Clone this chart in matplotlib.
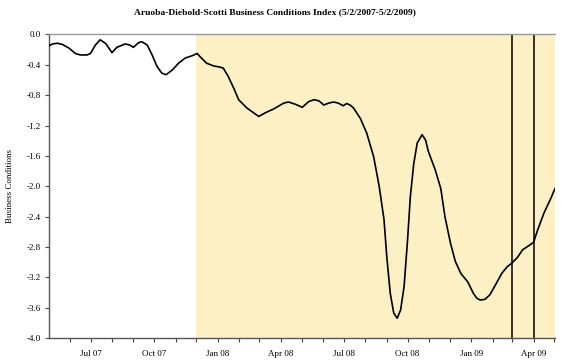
import numpy as np
import pandas as pd
import matplotlib
matplotlib.use('Agg')
import matplotlib.pyplot as plt
import matplotlib.dates as mdates

plt.rcParams['font.family'] = ['Liberation Serif', 'DejaVu Serif']

# ADS index
dates = ['2007-05-02', '2007-05-07', '2007-05-14', '2007-05-21', '2007-05-31', '2007-06-09',
         '2007-06-16', '2007-06-26', '2007-07-01', '2007-07-08', '2007-07-15', '2007-07-23',
         '2007-08-01', '2007-08-08', '2007-08-20', '2007-08-27', '2007-09-01', '2007-09-08',
         '2007-09-13', '2007-09-21', '2007-09-28', '2007-10-05', '2007-10-12', '2007-10-18',
         '2007-10-27', '2007-11-05', '2007-11-15', '2007-11-25', '2007-12-02', '2007-12-07',
         '2007-12-16', '2007-12-26', '2008-01-04', '2008-01-09', '2008-01-16', '2008-01-24',
         '2008-01-31', '2008-02-12', '2008-02-29', '2008-03-10', '2008-03-22', '2008-04-05',
         '2008-04-12', '2008-04-22', '2008-05-02', '2008-05-11', '2008-05-19', '2008-05-26',
         '2008-06-02', '2008-06-09', '2008-06-16', '2008-06-23', '2008-06-30', '2008-07-05',
         '2008-07-10', '2008-07-15', '2008-07-20', '2008-07-25', '2008-08-03', '2008-08-13',
         '2008-08-21', '2008-08-28', '2008-09-01', '2008-09-06', '2008-09-11', '2008-09-16',
         '2008-09-21', '2008-09-26', '2008-10-01', '2008-10-05', '2008-10-10', '2008-10-15',
         '2008-10-22', '2008-10-27', '2008-10-31', '2008-11-10', '2008-11-18', '2008-11-24',
         '2008-12-02', '2008-12-09', '2008-12-17', '2008-12-27', '2009-01-04', '2009-01-09',
         '2009-01-14', '2009-01-21', '2009-01-28', '2009-02-05', '2009-02-14', '2009-02-22',
         '2009-03-01', '2009-03-09', '2009-03-16', '2009-03-24', '2009-04-01', '2009-04-07',
         '2009-04-16', '2009-04-26', '2009-05-02']
values = [-0.15, -0.125, -0.116, -0.13, -0.18, -0.25,
          -0.27, -0.27, -0.25, -0.14, -0.07, -0.12,
          -0.24, -0.17, -0.125, -0.14, -0.17, -0.11,
          -0.095, -0.14, -0.27, -0.42, -0.51, -0.53,
          -0.47, -0.38, -0.31, -0.28, -0.25, -0.30,
          -0.38, -0.415, -0.43, -0.445, -0.555, -0.71,
          -0.86, -0.97, -1.08, -1.03, -0.98, -0.905,
          -0.89, -0.92, -0.96, -0.885, -0.86, -0.875,
          -0.93, -0.905, -0.89, -0.905, -0.94, -0.91,
          -0.93, -0.97, -1.04, -1.11, -1.30, -1.61,
          -2.00, -2.44, -2.93, -3.41, -3.67, -3.74,
          -3.63, -3.32, -2.71, -2.14, -1.70, -1.43,
          -1.32, -1.39, -1.54, -1.785, -2.03, -2.40,
          -2.75, -2.99, -3.15, -3.26, -3.41, -3.475,
          -3.50, -3.49, -3.43, -3.30, -3.15, -3.06,
          -3.01, -2.935, -2.84, -2.79, -2.74, -2.575,
          -2.355, -2.16, -2.03]

recession_start = '2007-12-01'
marker_dates = ['2009-03-01', '2009-04-01']
x_start, x_end = '2007-05-02', '2009-05-02'

d = pd.to_datetime(dates)

fig = plt.figure(figsize=(5.75, 3.62), dpi=100)
ax = fig.add_axes([0.0852, 0.0663, 0.880, 0.8385])

ax.axvspan(pd.Timestamp(recession_start), pd.Timestamp(x_end), color='#fcf0c4', lw=0, zorder=0)
ax.plot(d, values, color='black', lw=1.2, zorder=3, solid_joinstyle='round')
for md in marker_dates:
    ax.axvline(pd.Timestamp(md), color='black', lw=1.1, zorder=2)

ax.set_xlim(pd.Timestamp(x_start), pd.Timestamp(x_end))
ax.set_ylim(-4.0, 0.0)
yt = np.arange(-4.0, 0.01, 0.4)
ax.set_yticks(yt)
ax.set_yticklabels(['%.1f' % v if abs(v) > 1e-9 else '0.0' for v in yt])

ax.xaxis.set_major_locator(mdates.MonthLocator(bymonth=[1, 4, 7, 10]))
ax.xaxis.set_minor_locator(mdates.MonthLocator())
ax.xaxis.set_major_formatter(mdates.DateFormatter('%b %y'))

ax.tick_params(axis='both', which='both', direction='out', length=3, width=0.8,
               color='#444444', labelsize=6.5, pad=3)
ax.tick_params(axis='x', which='major', pad=6)

for s in ['left', 'bottom']:
    ax.spines[s].set_color('#555555')
    ax.spines[s].set_linewidth(1.0)
ax.spines['top'].set_color('#999999')
ax.spines['top'].set_linewidth(1.0)
ax.spines['right'].set_visible(False)

ax.set_ylabel('Business Conditions', fontsize=6.5, labelpad=9)
fig.text(0.478, 0.965, 'Aruoba-Diebold-Scotti Business Conditions Index (5/2/2007-5/2/2009)',
         ha='center', va='center', fontsize=6.8, fontweight='bold')

fig.savefig('out.png', dpi=100)
